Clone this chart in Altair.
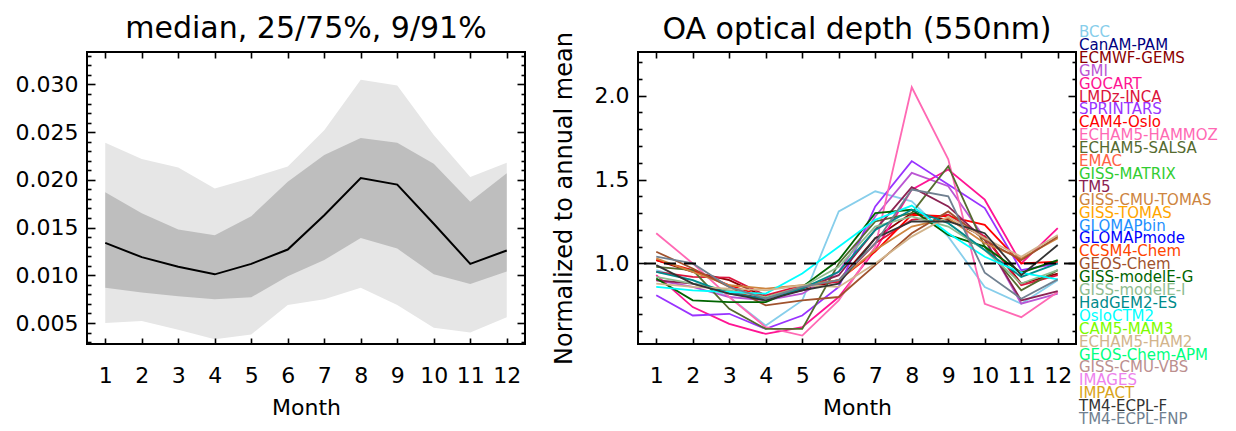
import altair as alt
import pandas as pd

# ---------------- data ----------------
months = list(range(1, 13))

# left panel: multi-model OA AOD statistics
p09 = [0.0050, 0.0052, 0.0043, 0.0033, 0.0038, 0.0069, 0.0075, 0.0087, 0.0069, 0.0045, 0.0040, 0.0056]
p25 = [0.0087, 0.0082, 0.0078, 0.0075, 0.0077, 0.0099, 0.0116, 0.0139, 0.0128, 0.0101, 0.0091, 0.0104]
p50 = [0.0134, 0.0119, 0.0109, 0.0101, 0.0112, 0.0127, 0.0163, 0.0202, 0.0195, 0.0154, 0.0112, 0.0126]
p75 = [0.0187, 0.0165, 0.0148, 0.0142, 0.0162, 0.0198, 0.0226, 0.0244, 0.0239, 0.0217, 0.0177, 0.0207]
p91 = [0.0239, 0.0222, 0.0213, 0.0191, 0.0202, 0.0214, 0.0252, 0.0305, 0.0299, 0.0247, 0.0203, 0.0218]

# legend (all models) and their colours
models = ["BCC", "CanAM-PAM", "ECMWF-GEMS", "GMI", "GOCART", "LMDz-INCA", "SPRINTARS",
          "CAM4-Oslo", "ECHAM5-HAMMOZ", "ECHAM5-SALSA", "EMAC", "GISS-MATRIX", "TM5",
          "GISS-CMU-TOMAS", "GISS-TOMAS", "GLOMAPbin", "GLOMAPmode", "CCSM4-Chem",
          "GEOS-Chem", "GISS-modelE-G", "GISS-modelE-I", "HadGEM2-ES", "OsloCTM2",
          "CAM5-MAM3", "ECHAM5-HAM2", "GEOS-Chem-APM", "GISS-CMU-VBS", "IMAGES",
          "IMPACT", "TM4-ECPL-F", "TM4-ECPL-FNP"]
colors = ["#87CEEB", "#000080", "#8B0000", "#BA55D3", "#FF1493", "#DC143C", "#9933FF",
          "#FF0000", "#FF69B4", "#556B2F", "#FF6347", "#32CD32", "#8B2252",
          "#CD853F", "#FFA500", "#1E90FF", "#0000FF", "#FF4500",
          "#A0522D", "#006400", "#8FBC8F", "#008B8B", "#00FFFF",
          "#7CFC00", "#D2B48C", "#00FF7F", "#BC8F8F", "#EE82EE",
          "#DAA520", "#333333", "#708090"]

# right panel: normalized monthly OA AOD per model
bcc = [0.96, 0.90, 0.80, 0.63, 0.78, 1.31, 1.43, 1.37, 1.16, 0.86, 0.76, 0.90]
ecmwf_gems = [1.02, 0.95, 0.90, 0.80, 0.84, 0.90, 1.15, 1.30, 1.26, 1.16, 0.88, 0.94]
gmi = [0.90, 0.86, 0.80, 0.78, 0.82, 0.95, 1.28, 1.54, 1.46, 1.15, 0.76, 0.82]
gocart = [0.93, 0.74, 0.64, 0.58, 0.62, 0.80, 1.08, 1.44, 1.56, 1.38, 1.00, 1.21]
lmdz_inca = [0.95, 0.92, 0.915, 0.81, 0.87, 0.89, 1.12, 1.26, 1.29, 1.16, 0.87, 0.93]
sprintars = [0.81, 0.69, 0.70, 0.61, 0.69, 0.86, 1.34, 1.61, 1.47, 1.33, 0.96, 1.00]
cam4_oslo = [1.02, 0.96, 0.87, 0.80, 0.86, 0.90, 1.07, 1.29, 1.28, 1.23, 1.00, 1.01]
echam5_hammoz = [1.18, 1.00, 0.80, 0.62, 0.57, 0.78, 1.10, 2.05, 1.62, 0.76, 0.68, 0.83]
echam5_salsa = [0.98, 0.96, 0.73, 0.61, 0.61, 1.00, 1.25, 1.30, 1.58, 1.10, 0.84, 0.96]
tm5 = [0.90, 0.88, 0.83, 0.79, 0.85, 0.93, 1.20, 1.455, 1.34, 1.14, 0.78, 0.835]
giss_cmu_tomas = [1.03, 0.95, 0.87, 0.85, 0.87, 0.90, 1.08, 1.22, 1.27, 1.12, 1.03, 1.15]
geos_chem = [1.07, 0.97, 0.86, 0.75, 0.78, 0.80, 0.99, 1.18, 1.31, 1.14, 1.02, 1.16]
giss_modele_g = [0.91, 0.78, 0.77, 0.77, 0.86, 1.02, 1.30, 1.32, 1.17, 1.10, 0.945, 1.02]
giss_modele_i = [0.92, 0.88, 0.84, 0.80, 0.86, 0.98, 1.22, 1.28, 1.22, 1.08, 0.88, 0.96]
hadgem2_es = [0.95, 0.90, 0.82, 0.79, 0.85, 0.95, 1.20, 1.32, 1.24, 1.08, 0.92, 1.00]
osloctm2 = [0.86, 0.84, 0.83, 0.82, 0.94, 1.10, 1.26, 1.345, 1.18, 1.04, 0.945, 0.905]
echam5_ham2 = [0.88, 0.86, 0.85, 0.84, 0.87, 0.86, 1.00, 1.16, 1.28, 1.15, 1.04, 1.17]
tm4_ecpl_f = [0.99, 0.88, 0.82, 0.78, 0.84, 0.88, 1.15, 1.25, 1.25, 1.18, 0.93, 1.11]
tm4_ecpl_fnp = [1.04, 1.00, 0.86, 0.79, 0.86, 0.90, 1.12, 1.44, 1.40, 0.945, 0.79, 0.905]

series = {
    "BCC": bcc, "ECMWF-GEMS": ecmwf_gems, "GMI": gmi, "GOCART": gocart,
    "LMDz-INCA": lmdz_inca, "SPRINTARS": sprintars, "CAM4-Oslo": cam4_oslo,
    "ECHAM5-HAMMOZ": echam5_hammoz, "ECHAM5-SALSA": echam5_salsa, "TM5": tm5,
    "GISS-CMU-TOMAS": giss_cmu_tomas, "GEOS-Chem": geos_chem,
    "GISS-modelE-G": giss_modele_g, "GISS-modelE-I": giss_modele_i,
    "HadGEM2-ES": hadgem2_es, "OsloCTM2": osloctm2, "ECHAM5-HAM2": echam5_ham2,
    "TM4-ECPL-F": tm4_ecpl_f, "TM4-ECPL-FNP": tm4_ecpl_fnp,
}

# tick values
left_major = [0.005, 0.010, 0.015, 0.020, 0.025, 0.030]
left_minor = [round(0.001 * i, 3) for i in range(3, 34) if i % 5]
right_major = [1.0, 1.5, 2.0]
right_minor = [round(0.1 * i, 1) for i in range(6, 23) if i % 5]

# ---------------- tables ----------------
left_df = pd.DataFrame({"month": months, "p09": p09, "p25": p25, "p50": p50, "p75": p75, "p91": p91})
rows = []
for name, vals in series.items():
    for m, v in zip(months, vals):
        rows.append({"model": name, "month": m, "value": v})
right_df = pd.DataFrame(rows)
ref_df = pd.DataFrame({"ref": [1.0]})
legend_df = pd.DataFrame({"model": models})

W, H = 438, 292
FONT = "DejaVu Sans"


def ax_in(orient, values, size, offset):
    return alt.Axis(orient=orient, values=values, tickSize=size, offset=offset, labels=False,
                    domain=False, grid=False, title=None, ticks=True, tickColor="black",
                    tickWidth=1.6, zindex=1)


def x_label_axis():
    return alt.Axis(orient="bottom", values=months, format="d", ticks=False, domain=False,
                    grid=False, labelPadding=21, title="Month", titlePadding=11,
                    labelFlush=False, labelOverlap=False)


color_scale = alt.Scale(domain=models, range=colors)

# ---------------- left panel ----------------
xs_l = alt.Scale(domain=[0.5, 12.5], nice=False, zero=False)
ys_l = alt.Scale(domain=[0.0028, 0.0334], nice=False, zero=False)
lb = alt.Chart(left_df)

light = lb.mark_area(color="#e6e6e6").encode(
    x=alt.X("month:Q", scale=xs_l, axis=x_label_axis()),
    y=alt.Y("p09:Q", scale=ys_l, axis=alt.Axis(orient="left", values=left_major, format=".3f",
                                                ticks=False, domain=False, grid=False,
                                                labelPadding=9, title=None)),
    y2="p91:Q",
)
dark = lb.mark_area(color="#bebebe").encode(
    x=alt.X("month:Q", scale=xs_l, axis=ax_in("top", months, 6, -H)),
    y=alt.Y("p25:Q", scale=ys_l, axis=ax_in("right", left_major, 8, -W)),
    y2="p75:Q",
)
median = lb.mark_line(color="black", strokeWidth=2).encode(
    x=alt.X("month:Q", scale=xs_l, axis=ax_in("bottom", months, 6, -H)),
    y=alt.Y("p50:Q", scale=ys_l, axis=ax_in("left", left_major, 8, -W)),
)
lminor1 = lb.mark_point(opacity=0).encode(
    x=alt.X("month:Q", scale=xs_l, axis=None),
    y=alt.Y("p50:Q", scale=ys_l, axis=ax_in("right", left_minor, 4, -W)),
)
lminor2 = lb.mark_point(opacity=0).encode(
    x=alt.X("month:Q", scale=xs_l, axis=None),
    y=alt.Y("p50:Q", scale=ys_l, axis=ax_in("left", left_minor, 4, -W)),
)
left = alt.layer(light, dark, median, lminor1, lminor2).resolve_axis(
    x="independent", y="independent"
).properties(width=W, height=H,
             title=alt.TitleParams("median, 25/75%, 9/91%", offset=7))

# ---------------- right panel ----------------
xs_r = alt.Scale(domain=[0.5, 12.5], nice=False, zero=False)
ys_r = alt.Scale(domain=[0.52, 2.26], nice=False, zero=False)
rb = alt.Chart(right_df)

lines = rb.mark_line(strokeWidth=1.8).encode(
    x=alt.X("month:Q", scale=xs_r, axis=x_label_axis()),
    y=alt.Y("value:Q", scale=ys_r, axis=alt.Axis(orient="left", values=right_major, format=".1f",
                                                  ticks=False, domain=False, grid=False,
                                                  labelPadding=9,
                                                  title="Normalized to annual mean",
                                                  titleFontSize=24, titlePadding=18)),
    color=alt.Color("model:N", scale=color_scale, legend=None),
)
ref = alt.Chart(ref_df).mark_rule(color="black", strokeDash=[12, 8], strokeWidth=2).encode(
    y=alt.Y("ref:Q", scale=ys_r, axis=ax_in("right", right_major, 8, -W)),
)
rinv1 = rb.mark_point(opacity=0).encode(
    x=alt.X("month:Q", scale=xs_r, axis=ax_in("top", months, 6, -H)),
    y=alt.Y("value:Q", scale=ys_r, axis=ax_in("left", right_major, 8, -W)),
)
rinv2 = rb.mark_point(opacity=0).encode(
    x=alt.X("month:Q", scale=xs_r, axis=ax_in("bottom", months, 6, -H)),
    y=alt.Y("value:Q", scale=ys_r, axis=ax_in("right", right_minor, 4, -W)),
)
rinv3 = rb.mark_point(opacity=0).encode(
    x=alt.X("month:Q", scale=xs_r, axis=None),
    y=alt.Y("value:Q", scale=ys_r, axis=ax_in("left", right_minor, 4, -W)),
)
right_inner = alt.layer(lines, ref, rinv1, rinv2, rinv3).resolve_axis(x="independent", y="independent")

legend = alt.Chart(legend_df).mark_text(align="left", baseline="middle", fontSize=15,
                                        font=FONT).encode(
    x=alt.value(441),
    y=alt.Y("model:N", scale=alt.Scale(type="point", domain=models, range=[-20, 367], padding=0),
            axis=None),
    color=alt.Color("model:N", scale=color_scale, legend=None),
    text="model:N",
)

right = alt.layer(right_inner, legend).resolve_scale(y="independent").properties(
    width=W, height=H, title=alt.TitleParams("OA optical depth (550nm)", offset=-20)
)

chart = alt.hconcat(left, right, spacing=24).properties(
    padding={"left": 14, "top": 13, "right": 0, "bottom": 0}
).configure_view(
    stroke="black", strokeWidth=2
).configure_axis(
    labelFont=FONT, labelFontSize=22, labelColor="black",
    titleFont=FONT, titleFontSize=22, titleColor="black", titleFontWeight="normal",
).configure_title(
    font=FONT, fontSize=30, fontWeight="normal", color="black", anchor="middle",
)

chart.save("out.html", embed_options={"renderer": "svg", "actions": False})
